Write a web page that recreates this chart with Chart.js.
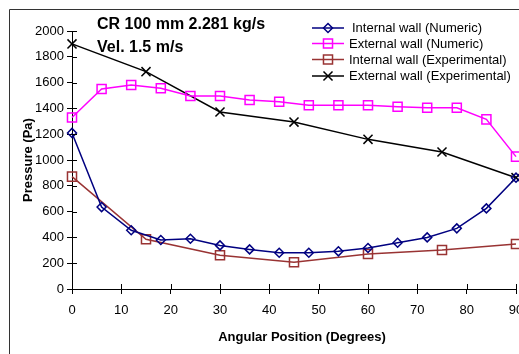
<!DOCTYPE html>
<html>
<head>
<meta charset="utf-8">
<script src="https://cdn.jsdelivr.net/npm/chart.js@4.4.1/dist/chart.umd.min.js"></script>
<style>
html,body{margin:0;padding:0;background:#fff}
#wrap{width:519px;height:354px;position:relative}
</style>
</head>
<body>
<div id="wrap"><canvas id="c" width="519" height="354"></canvas></div>
<script>
// angles (degrees)
const numAngles = [0,6,12,18,24,30,36,42,48,54,60,66,72,78,84,90]
const expAngles = [0,15,30,45,60,75,90]

// pressure (Pa)
const internalNumeric = [1210,635,455,380,390,338,307,281,281,292,318,359,400,470,625,863]
const externalNumeric = [1330,1550,1581,1556,1496,1496,1465,1452,1424,1424,1424,1413,1405,1405,1315,1026]
const internalExp = [871,385,261,207,271,302,349]
const externalExp = [1900,1685,1372,1294,1160,1062,863]

const seriesNames = ["Internal wall (Numeric)","External wall (Numeric)","Internal wall (Experimental)","External wall (Experimental)"]
const titleLines = ["CR 100 mm 2.281 kg/s","Vel. 1.5 m/s"]
const xTitle = "Angular Position (Degrees)"
const yTitle = "Pressure (Pa)"

const FONT = "'Liberation Sans', Arial, sans-serif"

function pts(xs, ys){
  return xs.map((x,i)=>({x:x,y:ys[i]}))
}

function ds(label, xs, ys, color, style, radius){
  return {
    label:label,
    data:pts(xs,ys),
    borderColor:color,
    borderWidth:1.5,
    pointStyle:style,
    pointRadius:radius,
    pointHoverRadius:radius,
    pointBorderColor:color,
    pointBackgroundColor:'rgba(0,0,0,0)',
    pointBorderWidth:1.5,
    tension:0,
    clip:false
  }
}

const extras = {
  id:'extras',
  beforeDraw(chart){
    const ctx = chart.ctx
    ctx.save()
    ctx.strokeStyle = '#333'
    ctx.lineWidth = 1
    ctx.beginPath()
    ctx.moveTo(9.5, 360)
    ctx.lineTo(9.5, 9.5)
    ctx.lineTo(530, 9.5)
    ctx.stroke()
    ctx.restore()
  },
  afterDraw(chart){
    const ctx = chart.ctx
    const xs = chart.scales.x, ys = chart.scales.y
    ctx.save()
    // inner halves of the crossing tick marks
    ctx.strokeStyle = '#000'
    ctx.lineWidth = 1
    ctx.beginPath()
    ys.ticks.forEach(t=>{
      const py = Math.round(ys.getPixelForValue(t.value)) + 0.5
      ctx.moveTo(xs.left, py); ctx.lineTo(xs.left + 5, py)
    })
    xs.ticks.forEach(t=>{
      const px = Math.round(xs.getPixelForValue(t.value)) + 0.5
      ctx.moveTo(px, ys.bottom); ctx.lineTo(px, ys.bottom - 5)
    })
    ctx.stroke()

    // text box title
    ctx.fillStyle = '#000'
    ctx.font = "bold 16px " + FONT
    ctx.textAlign = 'left'
    ctx.textBaseline = 'alphabetic'
    ctx.fillText(titleLines[0], 97, 29)
    ctx.fillText(titleLines[1], 97, 51.5)

    // x axis title
    ctx.font = "bold 13px " + FONT
    ctx.textAlign = 'center'
    ctx.textBaseline = 'middle'
    ctx.fillText(xTitle, 302, 337)

    // legend
    ctx.font = "13px " + FONT
    ctx.textAlign = 'left'
    const rows = [28, 43.5, 59.5, 76]
    chart.data.datasets.forEach((d,i)=>{
      const y = rows[i]
      ctx.strokeStyle = d.borderColor
      ctx.lineWidth = d.borderWidth
      ctx.beginPath()
      ctx.moveTo(312, y); ctx.lineTo(344, y)
      ctx.stroke()
      ctx.fillStyle = 'rgba(0,0,0,0)'
      ctx.lineWidth = d.pointBorderWidth
      Chart.helpers.drawPoint(ctx, {
        pointStyle:d.pointStyle, radius:d.pointRadius, rotation:0,
        borderWidth:d.pointBorderWidth
      }, 328, y)
      ctx.fillStyle = '#000'
      ctx.fillText(d.label, i === 0 ? 352 : 349, y + 0.5)
    })
    ctx.restore()
  }
}

new Chart(document.getElementById('c'), {
  type:'line',
  data:{
    datasets:[
      ds(seriesNames[0], numAngles, internalNumeric, '#000080', 'rectRot', 4.5),
      ds(seriesNames[1], numAngles, externalNumeric, '#ff00ff', 'rect', 6.4),
      ds(seriesNames[2], expAngles, internalExp, '#993333', 'rect', 6.4),
      ds(seriesNames[3], expAngles, externalExp, '#000000', 'crossRot', 6.4)
    ]
  },
  options:{
    responsive:false,
    animation:false,
    events:[],
    layout:{autoPadding:false, padding:{left:0, top:31, right:3, bottom:0}},
    plugins:{legend:{display:false}, tooltip:{enabled:false}},
    scales:{
      x:{
        type:'linear', min:0, max:90,
        afterFit(s){ s.height = 65; s.paddingRight = 0; s.paddingLeft = 0 },
        border:{display:true, color:'#000', width:1},
        grid:{drawOnChartArea:false, drawTicks:true, tickLength:5, color:'#000'},
        ticks:{stepSize:10, color:'#000', padding:9, font:{family:FONT, size:13}, maxRotation:0, callback:v=>String(v)}
      },
      y:{
        min:0, max:2000,
        afterFit(s){ s.width = 72; s.paddingTop = 0; s.paddingBottom = 0 },
        border:{display:true, color:'#000', width:1},
        grid:{drawOnChartArea:false, drawTicks:true, tickLength:5, color:'#000'},
        ticks:{stepSize:200, color:'#000', padding:3, font:{family:FONT, size:13}, callback:v=>String(v)},
        title:{display:true, text:yTitle, color:'#000', font:{family:FONT, size:13, weight:'bold'}, padding:{top:21, bottom:0}}
      }
    }
  },
  plugins:[extras]
})
</script>
</body>
</html>
